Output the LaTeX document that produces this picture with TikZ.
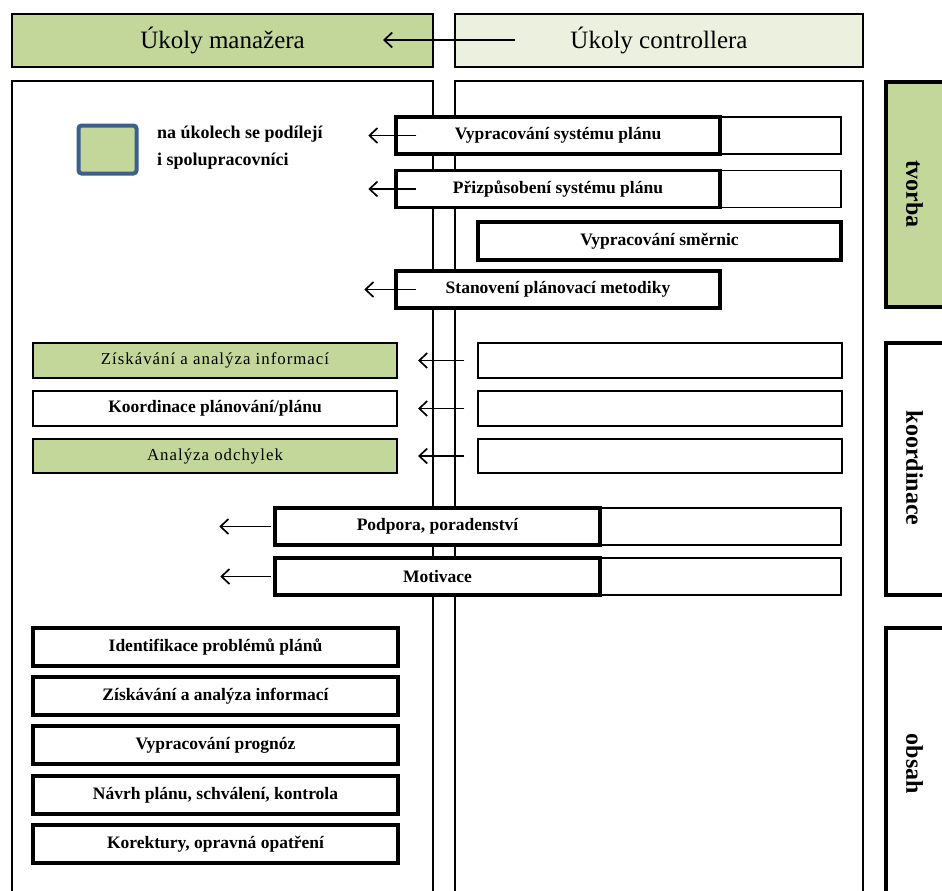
\documentclass[tikz,border=0pt]{standalone}
\usepackage{fontspec}
\setmainfont{Liberation Serif}
\newfontfamily\spacedserif[LetterSpace=6]{Liberation Serif}
\usetikzlibrary{arrows.meta}
\definecolor{leafgreen}{RGB}{196,215,155}
\definecolor{palegreen}{RGB}{235,241,222}
\definecolor{legendblue}{RGB}{60,95,140}
\tikzset{
  hdr/.style={draw=black, line width=1.2pt, minimum height=53pt, inner sep=0pt,
    font=\fontsize{25}{27}\selectfont},
  panel/.style={draw=black, line width=1.5pt, inner sep=0pt},
  strongbox/.style={draw=black, line width=3.5pt, inner sep=0pt, fill=white,
    font=\bfseries\fontsize{17.5}{19}\selectfont},
  midbox/.style={draw=black, line width=2pt, inner sep=0pt,
    font=\bfseries\fontsize{17.5}{19}\selectfont},
  plainbox/.style={draw=black, line width=2pt, inner sep=0pt, fill=leafgreen,
    font=\spacedserif\fontsize{16.8}{18}\selectfont},
  faintbox/.style={draw=black, line width=1.3pt, inner sep=0pt, fill=white},
  sidebox/.style={draw=black, line width=3.5pt, inner sep=0pt},
  sidetext/.style={inner sep=0pt, font=\bfseries\fontsize{24}{26}\selectfont},
  legendtext/.style={inner sep=0pt, anchor=west, font=\bfseries\fontsize{18}{20}\selectfont},
  arr/.style={-{Straight Barb[length=8pt,width=15pt]}, line width=1.7pt},
}
\begin{document}
\begin{tikzpicture}[x=1pt, y=-1pt]
\useasboundingbox (0,0) rectangle (942,891);
\clip (0,0) rectangle (942,891);

% column headers
\node[hdr, fill=leafgreen, minimum width=421pt] (mgr) at (222.5,40.5) {Úkoly manažera};
\node[hdr, fill=palegreen, minimum width=408pt] (ctl) at (659,40.5) {Úkoly controllera};
\coordinate (mgrtip) at (383,40);
\coordinate (ctltail) at (515,40);
\draw[arr] (ctltail) -- (mgrtip);

% the two columns
\node[panel, minimum width=421pt, minimum height=830pt] (colL) at (222.5,496) {};
\node[panel, minimum width=408pt, minimum height=830pt] (colR) at (659,496) {};

% phase labels on the right
\node[sidebox, fill=leafgreen, minimum width=64pt, minimum height=225pt] (tvorba) at (918,194.5) {};
\node[sidetext] (tvorbaT) at (914.5,194) {\rotatebox{-90}{tvorba}};
\node[sidebox, fill=white, minimum width=64pt, minimum height=252pt] (koord) at (918,469) {};
\node[sidetext] (koordT) at (914.5,468) {\rotatebox{-90}{koordinace}};
\node[sidebox, fill=white, minimum width=64pt, minimum height=280pt] (obsah) at (918,768) {};
\node[sidetext] (obsahT) at (914.5,764) {\rotatebox{-90}{obsah}};

% legend
\node[draw=legendblue, line width=4pt, fill=leafgreen, rounded corners=3pt,
  minimum width=58pt, minimum height=48pt, inner sep=0pt] (legend) at (107.5,149.5) {};
\node[legendtext] (leg1) at (157,134) {na úkolech se podílejí};
\node[legendtext] (leg2) at (157,161) {i spolupracovníci};

% creation tasks
\node[faintbox, minimum width=121pt, minimum height=37pt] (vspx) at (780.5,135.5) {};
\node[strongbox, minimum width=324pt, minimum height=37pt] (vsp) at (558,135.5) {Vypracování systému plánu};
\node[faintbox, minimum width=121pt, minimum height=37pt] (pspx) at (780.5,189) {};
\node[strongbox, minimum width=324pt, minimum height=37pt] (psp) at (558,189) {Přizpůsobení systému plánu};
\node[strongbox, minimum width=363pt, minimum height=38pt] (vsm) at (659.5,241) {Vypracování směrnic};
\node[strongbox, minimum width=324pt, minimum height=37pt] (spm) at (558,289.5) {Stanovení plánovací metodiky};
\draw[arr] ([xshift=22pt]vsp.west) -- ([xshift=-26pt]vsp.west);
\draw[arr] ([xshift=22pt]psp.west) -- ([xshift=-26pt]psp.west);
\draw[arr] ([xshift=22pt]spm.west) -- ([xshift=-30pt]spm.west);

% coordination tasks
\node[plainbox, minimum width=364pt, minimum height=35pt] (zai) at (215,360.5) {Získávání a analýza informací};
\node[midbox, minimum width=364pt, minimum height=35pt] (kpp) at (215,408.5) {Koordinace plánování/plánu};
\node[plainbox, minimum width=364pt, minimum height=34pt] (ao) at (215,456) {Analýza odchylek};
\node[faintbox, minimum width=364pt, minimum height=35pt] (zaiR) at (660,360.5) {};
\node[faintbox, minimum width=364pt, minimum height=35pt] (kppR) at (660,408.5) {};
\node[faintbox, minimum width=364pt, minimum height=34pt] (aoR) at (660,456) {};
\draw[arr] ([xshift=-13pt]zaiR.west) -- ([xshift=20pt]zai.east);
\draw[arr] ([xshift=-13pt]kppR.west) -- ([xshift=20pt]kpp.east);
\draw[arr] ([xshift=-13pt]aoR.west) -- ([xshift=20pt]ao.east);

\node[faintbox, minimum width=241pt, minimum height=37pt] (pprx) at (720.5,526.5) {};
\node[strongbox, minimum width=325pt, minimum height=37pt] (ppr) at (437.5,526.5) {Podpora, poradenství};
\node[faintbox, minimum width=241pt, minimum height=37pt] (motx) at (720.5,576.5) {};
\node[strongbox, minimum width=325pt, minimum height=37pt] (mot) at (437.5,576.5) {Motivace};
\draw[arr] ([xshift=-2pt]ppr.west) -- ([xshift=-54pt]ppr.west);
\draw[arr] ([xshift=-2pt]mot.west) -- ([xshift=-53pt]mot.west);

% content tasks
\node[strongbox, minimum width=365pt, minimum height=38pt] (ipp) at (215.5,647) {Identifikace problémů plánů};
\node[strongbox, minimum width=365pt, minimum height=38pt] (zai2) at (215.5,696) {Získávání a analýza informací};
\node[strongbox, minimum width=365pt, minimum height=38pt] (vpr) at (215.5,745) {Vypracování prognóz};
\node[strongbox, minimum width=365pt, minimum height=38pt] (nps) at (215.5,795) {Návrh plánu, schválení, kontrola};
\node[strongbox, minimum width=365pt, minimum height=38pt] (koo) at (215.5,844) {Korektury, opravná opatření};
\end{tikzpicture}
\end{document}
